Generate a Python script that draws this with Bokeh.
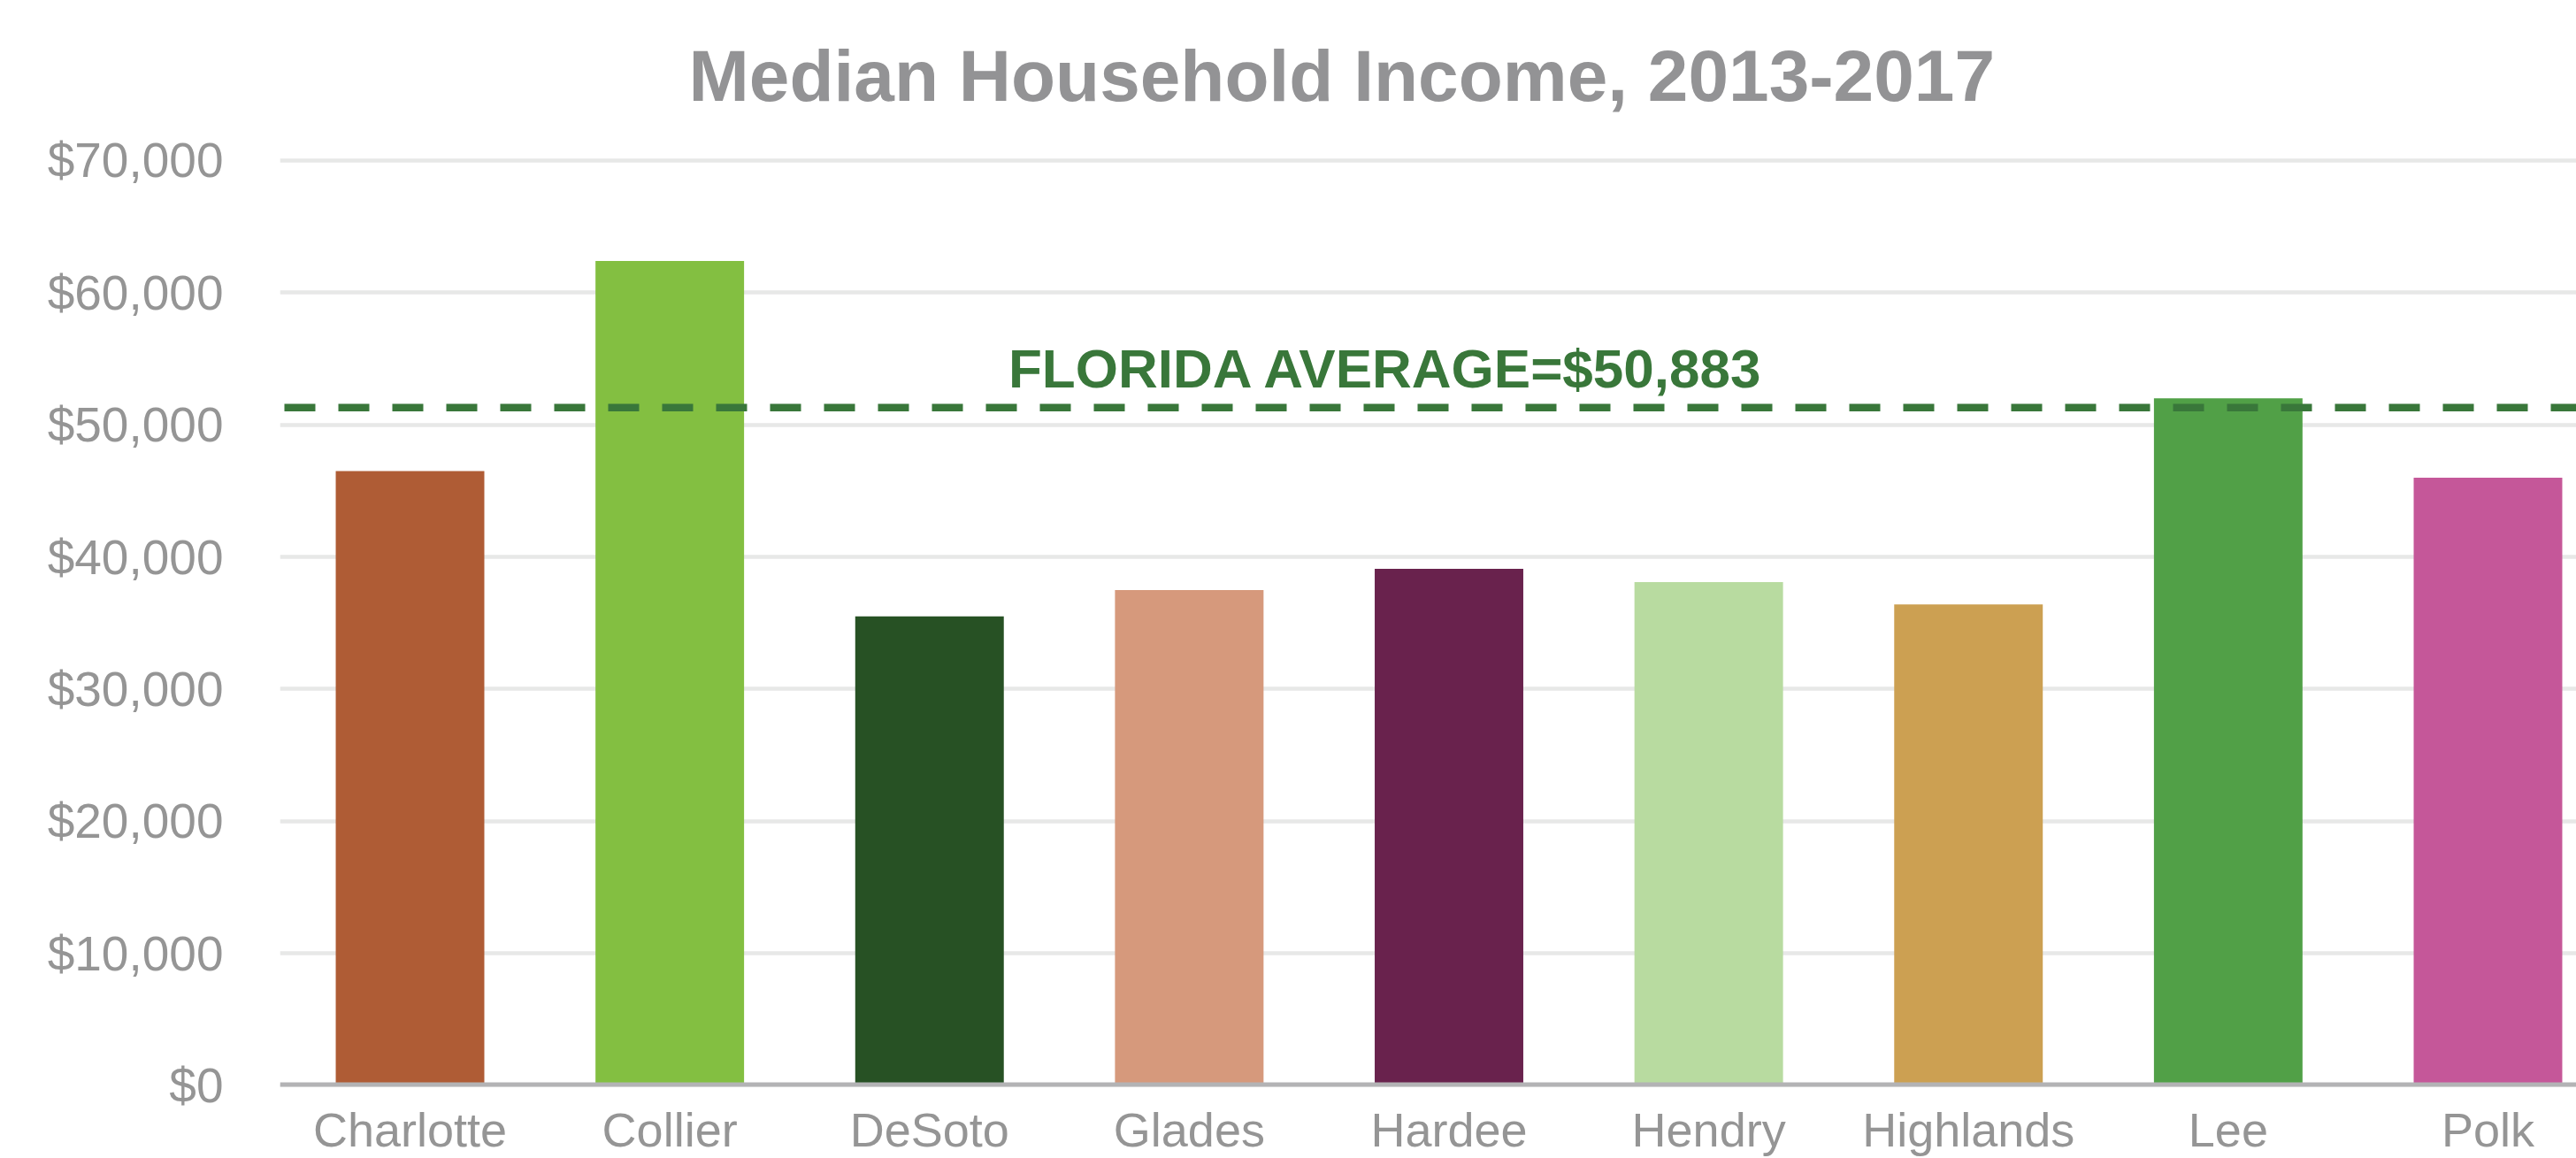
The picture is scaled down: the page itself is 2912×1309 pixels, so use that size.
from bokeh.plotting import figure
from bokeh.models import Range1d, FixedTicker, NumeralTickFormatter, Span, Label, ColumnDataSource
from bokeh.embed import file_html
from bokeh.resources import INLINE

# ---- data ----
counties = ["Charlotte", "Collier", "DeSoto", "Glades", "Hardee", "Hendry", "Highlands", "Lee", "Polk"]
income = [46500, 62400, 35500, 37500, 39100, 38100, 36400, 52000, 46000]
bar_colors = ["#AF5C35", "#83BF41", "#275124", "#D6997C", "#69224D", "#B8DBA0", "#CCA052", "#51A047", "#C55799"]
y_ticks = [0, 10000, 20000, 30000, 40000, 50000, 60000, 70000]
florida_avg = 50883
avg_line_level = 51300
title_text = "Median Household Income, 2013-2017"

FONT = "Liberation Sans"
GRAY = "#959595"
GREEN = "#39773A"

x_pos = list(range(len(counties)))
src = ColumnDataSource(dict(x=x_pos, income=income, color=bar_colors, name=counties))

p = figure(width=2912, height=1309, output_backend="svg", toolbar_location=None,
           x_range=Range1d(-0.5007, 8.3406), y_range=Range1d(-100, 71000),
           min_border_left=316, min_border_right=0, min_border_top=166, min_border_bottom=81)
p.outline_line_color = None
p.background_fill_color = "white"
p.border_fill_color = "white"

# title
p.title.text = title_text
p.title.align = "left"
p.title.offset = 462
p.title.standoff = 72
p.title.text_font = FONT
p.title.text_font_style = "bold"
p.title.text_font_size = "82px"
p.title.text_color = "#939395"

p.vbar(x="x", top="income", bottom=0, width=0.572, fill_color="color", line_color=None, source=src)

# axes
p.xaxis.ticker = FixedTicker(ticks=x_pos)
p.xaxis.major_label_overrides = {i: c for i, c in zip(x_pos, counties)}
p.xaxis.axis_line_color = None
p.xaxis.major_tick_line_color = None
p.xaxis.major_tick_out = 0
p.xaxis.major_tick_in = 0
p.xaxis.minor_tick_line_color = None
p.xaxis.major_label_standoff = 18
p.xaxis.major_label_text_font = FONT
p.xaxis.major_label_text_font_size = "54px"
p.xaxis.major_label_text_color = GRAY

p.yaxis.ticker = FixedTicker(ticks=y_ticks)
p.yaxis.formatter = NumeralTickFormatter(format="$0,0")
p.yaxis.axis_line_color = None
p.yaxis.major_tick_line_color = None
p.yaxis.major_tick_out = 0
p.yaxis.major_tick_in = 0
p.yaxis.minor_tick_line_color = None
p.yaxis.major_label_standoff = 64
p.yaxis.major_label_text_font = FONT
p.yaxis.major_label_text_font_size = "55px"
p.yaxis.major_label_text_color = GRAY

p.xgrid.grid_line_color = None
p.ygrid.grid_line_color = "#E7E8E7"
p.ygrid.grid_line_width = 4.5

# baseline
p.add_layout(Span(location=0, dimension="width", line_color="#B3B3B5", line_width=7))

# Florida average line + label
p.add_layout(Span(location=avg_line_level, dimension="width", line_color=GREEN,
                  line_width=8.5, line_dash="35 26", line_dash_offset=-5))
p.add_layout(Label(x=3.76, y=avg_line_level, y_offset=44, text=f"FLORIDA AVERAGE=${florida_avg:,}",
                   text_align="center", text_baseline="alphabetic", text_font=FONT,
                   text_font_style="bold", text_font_size="62px", text_color=GREEN))

open("out.html", "w").write(file_html(p, INLINE))
